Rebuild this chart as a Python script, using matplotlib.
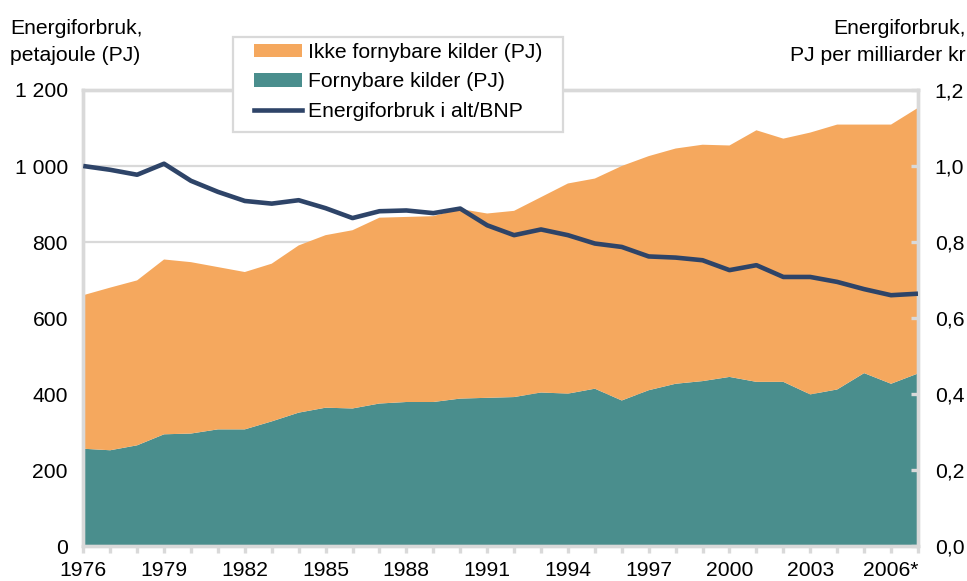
import matplotlib
matplotlib.use('Agg')
import numpy as np
from matplotlib import pyplot as plt
from matplotlib.patches import Patch, Rectangle
from matplotlib.lines import Line2D

# Data
aar = ['1976', '1977', '1978', '1979', '1980', '1981', '1982', '1983', '1984', '1985',
       '1986', '1987', '1988', '1989', '1990', '1991', '1992', '1993', '1994', '1995',
       '1996', '1997', '1998', '1999', '2000', '2001', '2002', '2003', '2004', '2005',
       '2006*', '2007*']
fornybare = [256, 252, 265, 294, 296, 307, 307, 328, 351, 364,
             362, 375, 379, 379, 388, 390, 392, 404, 401, 414,
             383, 410, 427, 434, 445, 432, 432, 399, 412, 455,
             427, 454]
ikke_fornybare = [404, 428, 434, 460, 451, 427, 414, 415, 440, 454,
                  469, 489, 487, 489, 499, 485, 490, 514, 553, 553,
                  617, 616, 619, 622, 609, 662, 640, 689, 697, 654,
                  682, 699]
energi_per_bnp = [1.000, 0.990, 0.977, 1.006, 0.961, 0.932, 0.908, 0.901, 0.910, 0.889,
                  0.863, 0.881, 0.883, 0.876, 0.888, 0.844, 0.818, 0.833, 0.818, 0.796,
                  0.787, 0.762, 0.759, 0.752, 0.726, 0.739, 0.708, 0.708, 0.695, 0.676,
                  0.660, 0.664]

venstre_ticks = [0, 200, 400, 600, 800, 1000, 1200]
venstre_labels = ['0', '200', '400', '600', '800', '1 000', '1 200']
hoyre_ticks = [0.0, 0.2, 0.4, 0.6, 0.8, 1.0, 1.2]
hoyre_labels = ['0,0', '0,2', '0,4', '0,6', '0,8', '1,0', '1,2']

ORANSJE = '#F5A85E'
TURKIS = '#4A8E8D'
MARINE = '#2E4468'
GRAA = '#D9D9D9'
FS = 15.2

plt.rcParams['font.family'] = ['Liberation Sans', 'DejaVu Sans']

fig = plt.figure(figsize=(9.67, 5.81), dpi=100)
ax = fig.add_axes([0.0861, 0.0602, 0.8632, 0.7849])
x = np.arange(len(aar))

ax.stackplot(x, fornybare, ikke_fornybare, colors=[TURKIS, ORANSJE], zorder=2, linewidth=0)
ax.set_xlim(0, len(aar) - 1)
ax.set_ylim(0, 1200)
ax.set_yticks(venstre_ticks)
ax.set_yticklabels(venstre_labels, fontsize=FS)
ax.yaxis.grid(True, color=GRAA, linewidth=1.6, zorder=0)
ax.set_axisbelow(True)
ax.tick_params(axis='y', length=0, pad=11)
ax.set_xticks(x)
ax.set_xticklabels([a if i % 3 == 0 else '' for i, a in enumerate(aar)], fontsize=FS)
ax.tick_params(axis='x', direction='out', length=5, width=2.4, color=GRAA, pad=5.5)
for sp in ax.spines.values():
    sp.set_color(GRAA)
    sp.set_linewidth(2.4)

ax2 = ax.twinx()
ax2.plot(x, energi_per_bnp, color=MARINE, linewidth=3.3, solid_capstyle='butt', zorder=3)
ax2.set_ylim(0, 1.2)
ax2.set_yticks(hoyre_ticks)
ax2.set_yticklabels(hoyre_labels, fontsize=FS)
ax2.tick_params(axis='y', direction='in', length=5, width=2.4, color=GRAA, pad=12)
for sp in ax2.spines.values():
    sp.set_color(GRAA)
    sp.set_linewidth(2.4)

fig.text(0.0103, 0.968, 'Energiforbruk,\npetajoule (PJ)', fontsize=FS, ha='left', va='top',
         linespacing=1.55)
fig.text(0.999, 0.968, 'Energiforbruk,\nPJ per milliarder kr', fontsize=FS, ha='right', va='top',
         multialignment='right', linespacing=1.55)

# legend box (white, grey border) sitting over the top spine
fig.patches.append(Rectangle((0.2410, 0.7728), 0.3413, 0.1635, transform=fig.transFigure,
                             facecolor='white', edgecolor=GRAA, linewidth=1.6, zorder=1))

handles = [Patch(facecolor=ORANSJE, edgecolor='none'),
           Patch(facecolor=TURKIS, edgecolor='none'),
           Line2D([0], [0], color=MARINE, linewidth=3.3)]
labels = ['Ikke fornybare kilder (PJ)', 'Fornybare kilder (PJ)', 'Energiforbruk i alt/BNP']
leg = fig.legend(handles, labels, loc='upper left', bbox_to_anchor=(0.2627, 0.926),
                 fontsize=FS, frameon=False, borderpad=0, labelspacing=0.49,
                 handlelength=2.25, handleheight=0.6, handletextpad=0.3, borderaxespad=0)
leg.set_zorder(5)

fig.savefig('out.png', dpi=100)
